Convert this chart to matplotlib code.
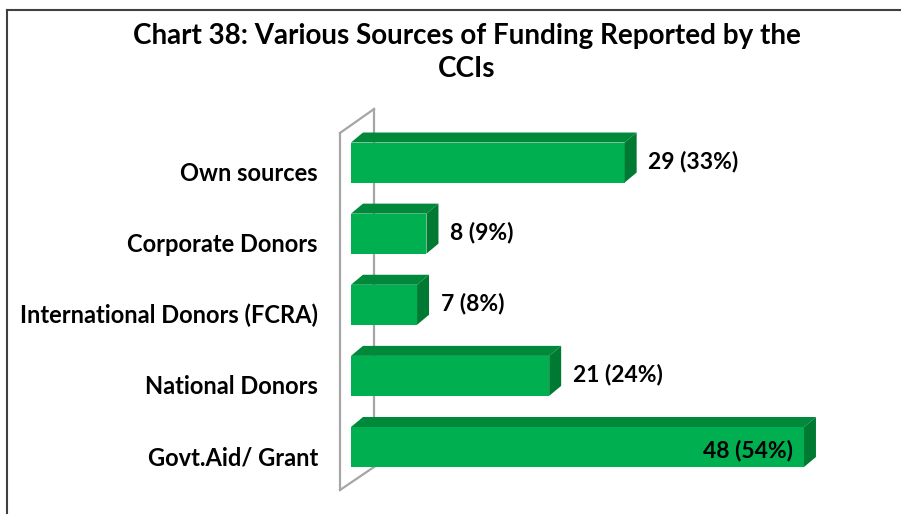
import matplotlib
matplotlib.use("Agg")
import matplotlib.pyplot as plt
from matplotlib.patches import Polygon
from matplotlib.lines import Line2D

categories = ["Govt.Aid/ Grant", "National Donors", "International Donors (FCRA)",
              "Corporate Donors", "Own sources"]
counts = [48, 21, 7, 8, 29]
percents = [54, 24, 8, 9, 33]

FRONT = "#00B050"
TOP = "#00883B"
SIDE = "#007A33"
WALL = "#A6A6A6"
FONT = ["Lato", "DejaVu Sans"]

fig = plt.figure(figsize=(9.01, 5.14), dpi=100)
ax = fig.add_axes([0, 0, 1, 1])
ax.set_xlim(-37.19, 58.28)
ax.set_ylim(-0.942, 6.285)
ax.axis("off")

bar_h = 0.5624
dx, dy = 1.27, 0.1406   # depth of the 3-D bars in data units

# side wall of the 3-D plot area
wx0, wx1 = -1.166, 2.44
ax.add_line(Line2D([wx0, wx0], [-0.605, 4.415], color=WALL, lw=1.6, zorder=1))
ax.add_line(Line2D([wx0, wx1], [4.415, 4.752], color=WALL, lw=1.6, zorder=1))
ax.add_line(Line2D([wx1, wx1], [4.752, -0.281], color=WALL, lw=1.6, zorder=1))
ax.add_line(Line2D([wx0, wx1], [-0.605, -0.281], color=WALL, lw=1.6, zorder=1))

ys = list(range(len(categories)))
ax.barh(ys, counts, height=bar_h, left=0, color=FRONT, zorder=3, linewidth=0)

for y, v, p, name in zip(ys, counts, percents, categories):
    top = y + bar_h / 2
    bot = y - bar_h / 2
    ax.add_patch(Polygon([(0, top), (v, top), (v + dx, top + dy), (dx, top + dy)],
                         closed=True, facecolor=TOP, edgecolor="none", zorder=3))
    ax.add_patch(Polygon([(v, bot), (v, top), (v + dx, top + dy), (v + dx, bot + dy)],
                         closed=True, facecolor=SIDE, edgecolor="none", zorder=3))
    label = f"{v} ({p}%)"
    if v == max(counts):
        ax.text(v - 1.2, y - 0.05, label, ha="right", va="center", fontsize=16.5,
                fontweight="bold", family=FONT, color="black", zorder=4)
    else:
        ax.text(v + 2.5, y + 0.02, label, ha="left", va="center", fontsize=16.5,
                fontweight="bold", family=FONT, color="black", zorder=4)
    ax.text(-3.5, y - 0.15, name, ha="right", va="center", fontsize=17,
            fontweight="bold", family=FONT, color="black")

fig.text(0.518, 0.898, "Chart 38: Various Sources of Funding Reported by the\nCCIs",
         ha="center", va="center", fontsize=20, fontweight="bold", family=FONT,
         linespacing=1.35)

# chart frame
fig.add_artist(Line2D([7 / 901, 7 / 901], [0, 1 - 10 / 514], transform=fig.transFigure,
                      color="#404040", lw=1.5))
fig.add_artist(Line2D([7 / 901, 1], [1 - 10 / 514, 1 - 10 / 514], transform=fig.transFigure,
                      color="#404040", lw=1.5))

fig.savefig("out.png", dpi=100)
